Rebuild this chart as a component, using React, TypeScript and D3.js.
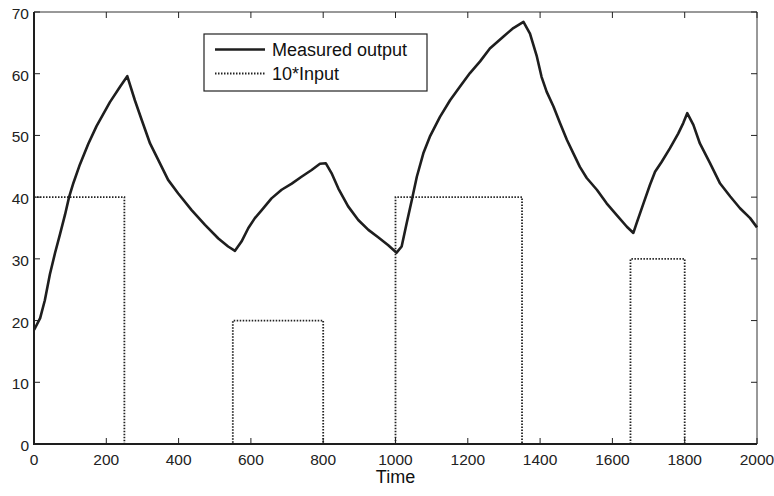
import React from 'react';
import * as d3 from 'd3';

// measured output
const outputTime = [0, 3, 17, 30, 44, 58, 72, 86, 97, 109, 127, 150, 173, 210, 238, 258, 279, 298, 321, 344, 371, 399, 436, 473, 510, 537, 556, 574, 593, 611, 630, 657, 685, 713, 740, 768, 791, 807, 823, 842, 869, 897, 925, 952, 980, 1003, 1017, 1031, 1045, 1059, 1077, 1095, 1123, 1151, 1178, 1206, 1234, 1261, 1298, 1326, 1354, 1372, 1391, 1404, 1418, 1437, 1455, 1474, 1492, 1510, 1529, 1557, 1584, 1612, 1640, 1658, 1667, 1686, 1704, 1718, 1736, 1759, 1782, 1796, 1807, 1824, 1842, 1870, 1898, 1926, 1953, 1981, 2000];
const outputValue = [18.5, 18.8, 20.4, 23.3, 27.5, 30.9, 34.0, 37.2, 40.0, 42.3, 45.3, 48.6, 51.5, 55.4, 57.9, 59.6, 55.7, 52.5, 48.7, 46.0, 42.8, 40.6, 37.9, 35.5, 33.3, 32.0, 31.3, 32.8, 35.0, 36.6, 37.9, 39.8, 41.2, 42.2, 43.3, 44.4, 45.4, 45.5, 43.9, 41.4, 38.5, 36.3, 34.7, 33.5, 32.2, 31.0, 32.0, 35.8, 39.5, 43.3, 47.1, 49.8, 53.0, 55.7, 57.9, 60.1, 62.0, 64.1, 66.0, 67.4, 68.4, 66.5, 62.8, 59.5, 57.1, 54.7, 52.0, 49.3, 47.1, 44.9, 43.1, 41.2, 39.0, 37.1, 35.2, 34.2, 35.8, 39.0, 42.0, 44.1, 45.7, 47.9, 50.3, 52.0, 53.6, 51.7, 48.7, 45.5, 42.2, 40.1, 38.2, 36.6, 35.1];

// 10*Input, piecewise constant (value holds from each switch time)
const inputTime = [0, 250, 550, 800, 1000, 1350, 1650, 1800, 2000];
const inputLevel = [40, 0, 20, 0, 40, 0, 30, 0, 0];

const xTicks = [0, 200, 400, 600, 800, 1000, 1200, 1400, 1600, 1800, 2000];
const yTicks = [0, 10, 20, 30, 40, 50, 60, 70];

const legendLabels = ['Measured output', '10*Input'];

const W = 774;
const H = 496;
const M = { left: 34, right: 17, top: 12, bottom: 52 };
const FONT = '"Liberation Sans", Arial, sans-serif';
const TICK = 6;
const DOTS = '1.5,1.5';

export default function App() {
  const x = d3.scaleLinear().domain([0, 2000]).range([M.left, W - M.right]);
  const y = d3.scaleLinear().domain([0, 70]).range([H - M.bottom, M.top]);

  const outLine = d3.line<number>()
    .x((_, i) => x(outputTime[i]))
    .y((v) => y(v))(outputValue);

  const inLine = d3.line<number>()
    .x((_, i) => x(inputTime[i]))
    .y((v) => y(v))
    .curve(d3.curveStepAfter)(inputLevel);

  const x0 = x.range()[0], x1 = x.range()[1];
  const y0 = y.range()[0], y1 = y.range()[1];

  return (
    <div style={{ position: 'absolute', left: 0, top: 0 }}>
      <svg width={W} height={H} style={{ display: 'block', background: '#fff' }} fontFamily={FONT}>
        {/* box: top and right thin */}
        <line x1={x0} x2={x1} y1={y1} y2={y1} stroke="#333" strokeWidth={1} />
        <line x1={x1} x2={x1} y1={y1} y2={y0} stroke="#333" strokeWidth={1} />

        {/* input */}
        <path d={inLine ?? ''} fill="none" stroke="#222" strokeWidth={1.8} strokeDasharray={DOTS} />

        {/* measured output */}
        <path d={outLine ?? ''} fill="none" stroke="#1e1e1e" strokeWidth={2.6} strokeLinejoin="round" />

        {/* x ticks */}
        {xTicks.map((t) => (
          <g key={'x' + t}>
            <line x1={x(t)} x2={x(t)} y1={y0} y2={y0 - TICK} stroke="#222" strokeWidth={1} />
            <line x1={x(t)} x2={x(t)} y1={y1} y2={y1 + TICK} stroke="#222" strokeWidth={1} />
            <text x={x(t)} y={y0 + 21} fontSize={15.5} fill="#222" textAnchor="middle">{t}</text>
          </g>
        ))}

        {/* y ticks */}
        {yTicks.map((t) => (
          <g key={'y' + t}>
            <line x1={x0} x2={x0 + TICK} y1={y(t)} y2={y(t)} stroke="#222" strokeWidth={1} />
            <line x1={x1} x2={x1 - TICK} y1={y(t)} y2={y(t)} stroke="#222" strokeWidth={1} />
            <text x={x0 - 5} y={y(t) + 7} fontSize={15.5} fill="#222" textAnchor="end">{t}</text>
          </g>
        ))}

        {/* left and bottom spines, heavier */}
        <line x1={x0} x2={x0} y1={y1} y2={y0 + 1} stroke="#1e1e1e" strokeWidth={2} />
        <line x1={x0 - 1} x2={x1} y1={y0} y2={y0} stroke="#1e1e1e" strokeWidth={2} />

        <text x={(x0 + x1) / 2} y={y0 + 39} fontSize={18} fill="#111" textAnchor="middle">Time</text>

        {/* legend */}
        <g transform="translate(204,34)">
          <rect x={0} y={0} width={223} height={57} fill="#fff" stroke="#222" strokeWidth={1.2} />
          <line x1={11} x2={61} y1={15.5} y2={15.5} stroke="#1e1e1e" strokeWidth={2.6} />
          <text x={68} y={22} fontSize={18} fill="#111">{legendLabels[0]}</text>
          <line x1={11} x2={61} y1={39.5} y2={39.5} stroke="#222" strokeWidth={1.8} strokeDasharray={DOTS} />
          <text x={68} y={46} fontSize={18} fill="#111">{legendLabels[1]}</text>
        </g>
      </svg>
    </div>
  );
}
